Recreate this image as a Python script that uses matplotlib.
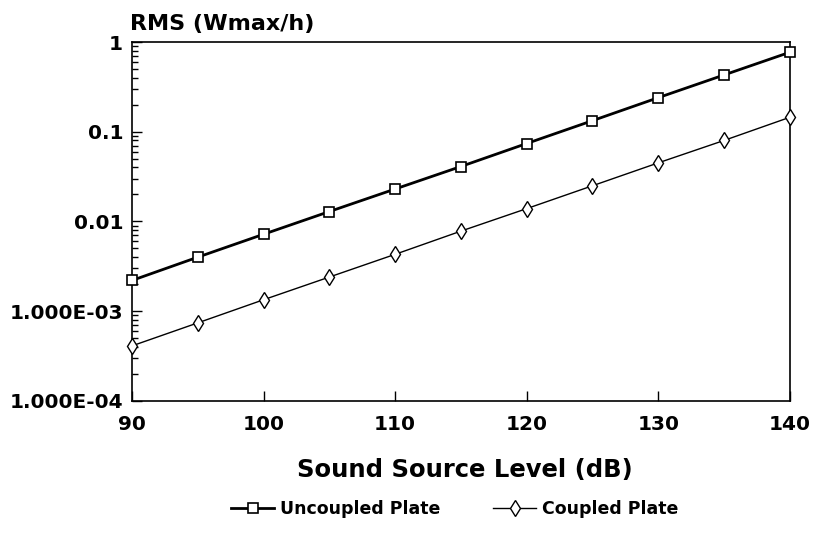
import numpy as np
import matplotlib.pyplot as plt
from matplotlib.ticker import FixedLocator, FixedFormatter, LogLocator, NullFormatter

plt.rcParams['font.family'] = ['DejaVu Sans']
plt.rcParams['font.weight'] = 'bold'

# sound source level (dB)
level = [90, 95, 100, 105, 110, 115, 120, 125, 130, 135, 140]
# RMS (Wmax/h)
uncoupled = [0.0022, 0.0040, 0.0072, 0.0129, 0.023, 0.041, 0.074, 0.133, 0.24, 0.43, 0.77]
coupled = [0.00041, 0.00074, 0.00134, 0.0024, 0.0043, 0.0078, 0.0139, 0.025, 0.045, 0.080, 0.145]

ytick_vals = [1e-4, 1e-3, 1e-2, 1e-1, 1]
ytick_labels = ["1.000E-04", "1.000E-03", "0.01", "0.1", "1"]
xtick_vals = [90, 100, 110, 120, 130, 140]

fig = plt.figure(figsize=(8.15, 5.33), dpi=100)
ax = fig.add_axes([0.162, 0.248, 0.807, 0.673])

ax.plot(level, uncoupled, color="black", lw=2.0, marker="s", ms=6.5,
        mfc="white", mec="black", mew=1.2, label="Uncoupled Plate", clip_on=False, zorder=4)
ax.plot(level, coupled, color="black", lw=1.0, marker="d", ms=8,
        mfc="white", mec="black", mew=1.0, label="Coupled Plate", clip_on=False, zorder=4)

ax.set_yscale('log')
ax.set_xlim(90, 140)
ax.set_ylim(1e-4, 1)

ax.yaxis.set_major_locator(FixedLocator(ytick_vals))
ax.yaxis.set_major_formatter(FixedFormatter(ytick_labels))
ax.yaxis.set_minor_locator(LogLocator(base=10, subs=np.arange(2, 10)))
ax.yaxis.set_minor_formatter(NullFormatter())
ax.set_xticks(xtick_vals)

ax.tick_params(axis='both', which='major', direction='in', length=7, width=1,
               labelsize=14.5, top=False, right=False)
ax.tick_params(axis='x', which='major', pad=10)
ax.tick_params(axis='y', which='major', pad=6.5)
ax.tick_params(axis='y', which='minor', direction='in', length=4, width=1, right=False)
for lab in ax.get_xticklabels() + ax.get_yticklabels():
    lab.set_fontweight('bold')

for s in ax.spines.values():
    s.set_linewidth(1.2)

ax.set_xlabel("Sound Source Level (dB)", fontsize=17.5, fontweight='bold')
ax.xaxis.set_label_coords(0.506, -0.16)
fig.text(130 / 815, 0.944, "RMS (Wmax/h)", fontsize=16, fontweight='bold',
         ha='left', va='baseline')

fig.legend(loc='center', bbox_to_anchor=(0.558, 0.045), ncol=2, frameon=False,
           handlelength=2.5, columnspacing=3.0, handletextpad=0.35,
           prop={'weight': 'bold', 'size': 12.5})

fig.savefig('out.png', dpi=100)
